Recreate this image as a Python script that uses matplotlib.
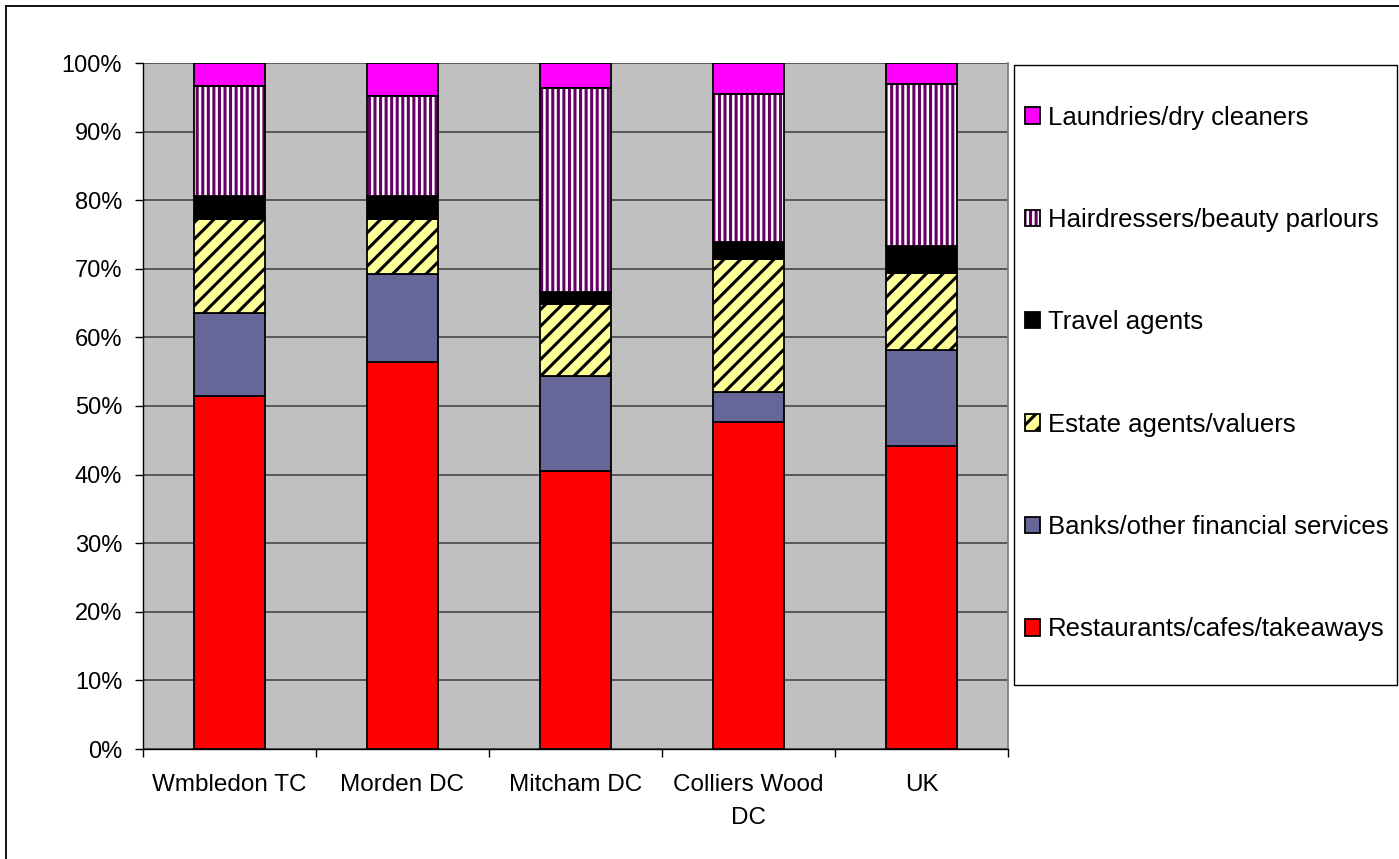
import matplotlib
matplotlib.use("Agg")
import matplotlib.pyplot as plt
from matplotlib.patches import Patch, Rectangle
from matplotlib.lines import Line2D
from matplotlib.legend_handler import HandlerTuple
import numpy as np

plt.rcParams['font.family'] = ['Liberation Sans', 'DejaVu Sans']
plt.rcParams['hatch.linewidth'] = 2.2

categories = ["Wmbledon TC", "Morden DC", "Mitcham DC", "Colliers Wood\nDC", "UK"]
restaurants = [51.5, 56.4, 40.5, 47.7, 44.2]
banks = [12.0, 12.8, 13.9, 4.4, 13.9]
estate = [13.8, 8.1, 10.4, 19.3, 11.3]
travel = [3.3, 3.3, 1.8, 2.5, 3.9]
hair = [16.0, 14.6, 29.8, 21.6, 23.6]
laundry = [3.4, 4.8, 3.6, 4.5, 3.1]

series_names = ["Restaurants/cafes/takeaways", "Banks/other financial services",
                "Estate agents/valuers", "Travel agents",
                "Hairdressers/beauty parlours", "Laundries/dry cleaners"]
ytick_labels = ["0%", "10%", "20%", "30%", "40%", "50%", "60%", "70%", "80%", "90%", "100%"]

W, H = 1399, 859
fig = plt.figure(figsize=(W / 100, H / 100), dpi=100)
fig.patch.set_facecolor("white")
ax = fig.add_axes([143 / W, 1 - 749 / H, (1008 - 143) / W, (749 - 63) / H])
ax.set_facecolor("#C0C0C0")

x = np.arange(len(categories))
bw = 0.41
lw = 1.3
series = [restaurants, banks, estate, travel, hair, laundry]
styles = [
    dict(face="#FF0000", hatch=None, hcol=None),
    dict(face="#666699", hatch=None, hcol=None),
    dict(face="#FFFF99", hatch="//", hcol="black"),
    dict(face="#000000", hatch=None, hcol=None),
    dict(face="#FFFFFF", hatch="|||", hcol="#660066"),
    dict(face="#FF00FF", hatch=None, hcol=None),
]

bottom = np.zeros(len(categories))
for vals, st in zip(series, styles):
    vals = np.array(vals)
    if st["hatch"]:
        ax.bar(x, vals, bw, bottom=bottom, color=st["face"], hatch=st["hatch"],
               edgecolor=st["hcol"], linewidth=0, zorder=3)
        ax.bar(x, vals, bw, bottom=bottom, fill=False, edgecolor="black",
               linewidth=lw, zorder=4)
    else:
        ax.bar(x, vals, bw, bottom=bottom, color=st["face"], edgecolor="black",
               linewidth=lw, zorder=3)
    bottom += vals

ax.set_xlim(-0.5, len(categories) - 0.5)
ax.set_ylim(0, 100)
ax.set_yticks(np.arange(0, 101, 10))
ax.set_yticklabels(ytick_labels, fontsize=17)
ax.yaxis.grid(True, color="#505050", linewidth=1.3, zorder=1)
ax.set_axisbelow(True)

ax.set_xticks(x)
ax.set_xticklabels(categories, fontsize=17.5, linespacing=1.62, va="top")
ax.set_xticks(np.arange(-0.5, len(categories), 1), minor=True)
ax.tick_params(axis="x", which="major", length=0, pad=18)
ax.tick_params(axis="x", which="minor", length=6, width=1, color="black", direction="out")
ax.tick_params(axis="y", length=6, width=1, color="black", direction="out", pad=9)

ax.spines["top"].set_visible(False)
ax.spines["right"].set_color("#808080")
ax.spines["right"].set_linewidth(1.3)
ax.spines["left"].set_color("black")
ax.spines["bottom"].set_color("black")
ax.spines["left"].set_linewidth(1)
ax.spines["bottom"].set_linewidth(1)

handles = []
for name, st in zip(series_names, styles):
    if st["hatch"]:
        handles.append((Patch(facecolor=st["face"], edgecolor=st["hcol"], hatch=st["hatch"],
                              linewidth=0),
                        Patch(fill=False, edgecolor="black", linewidth=1.3)))
    else:
        handles.append(Patch(facecolor=st["face"], edgecolor="black", linewidth=1.3))

leg = fig.legend(handles[::-1], series_names[::-1], loc="center left",
                 bbox_to_anchor=(1025 / W, 1 - 373.5 / H), borderaxespad=0,
                 borderpad=0, fontsize=18.5, frameon=False,
                 labelspacing=3.05, handlelength=0.6, handleheight=0.6,
                 handletextpad=0.3,
                 handler_map={tuple: HandlerTuple(ndivide=1, pad=0)})

# legend box
fig.patches.append(Rectangle((1014 / W, 1 - 685 / H), (1397 - 1014) / W, (685 - 65) / H,
                             transform=fig.transFigure, fill=False,
                             edgecolor="black", linewidth=1.0))

# outer chart border (top and left visible)
fig.lines.append(Line2D([6.5 / W, 1.0], [1 - 5.5 / H, 1 - 5.5 / H],
                        transform=fig.transFigure, color="black", linewidth=1.3))
fig.lines.append(Line2D([6.5 / W, 6.5 / W], [1 - 5.5 / H, 0],
                        transform=fig.transFigure, color="black", linewidth=1.3))

fig.savefig("out.png", dpi=100)
